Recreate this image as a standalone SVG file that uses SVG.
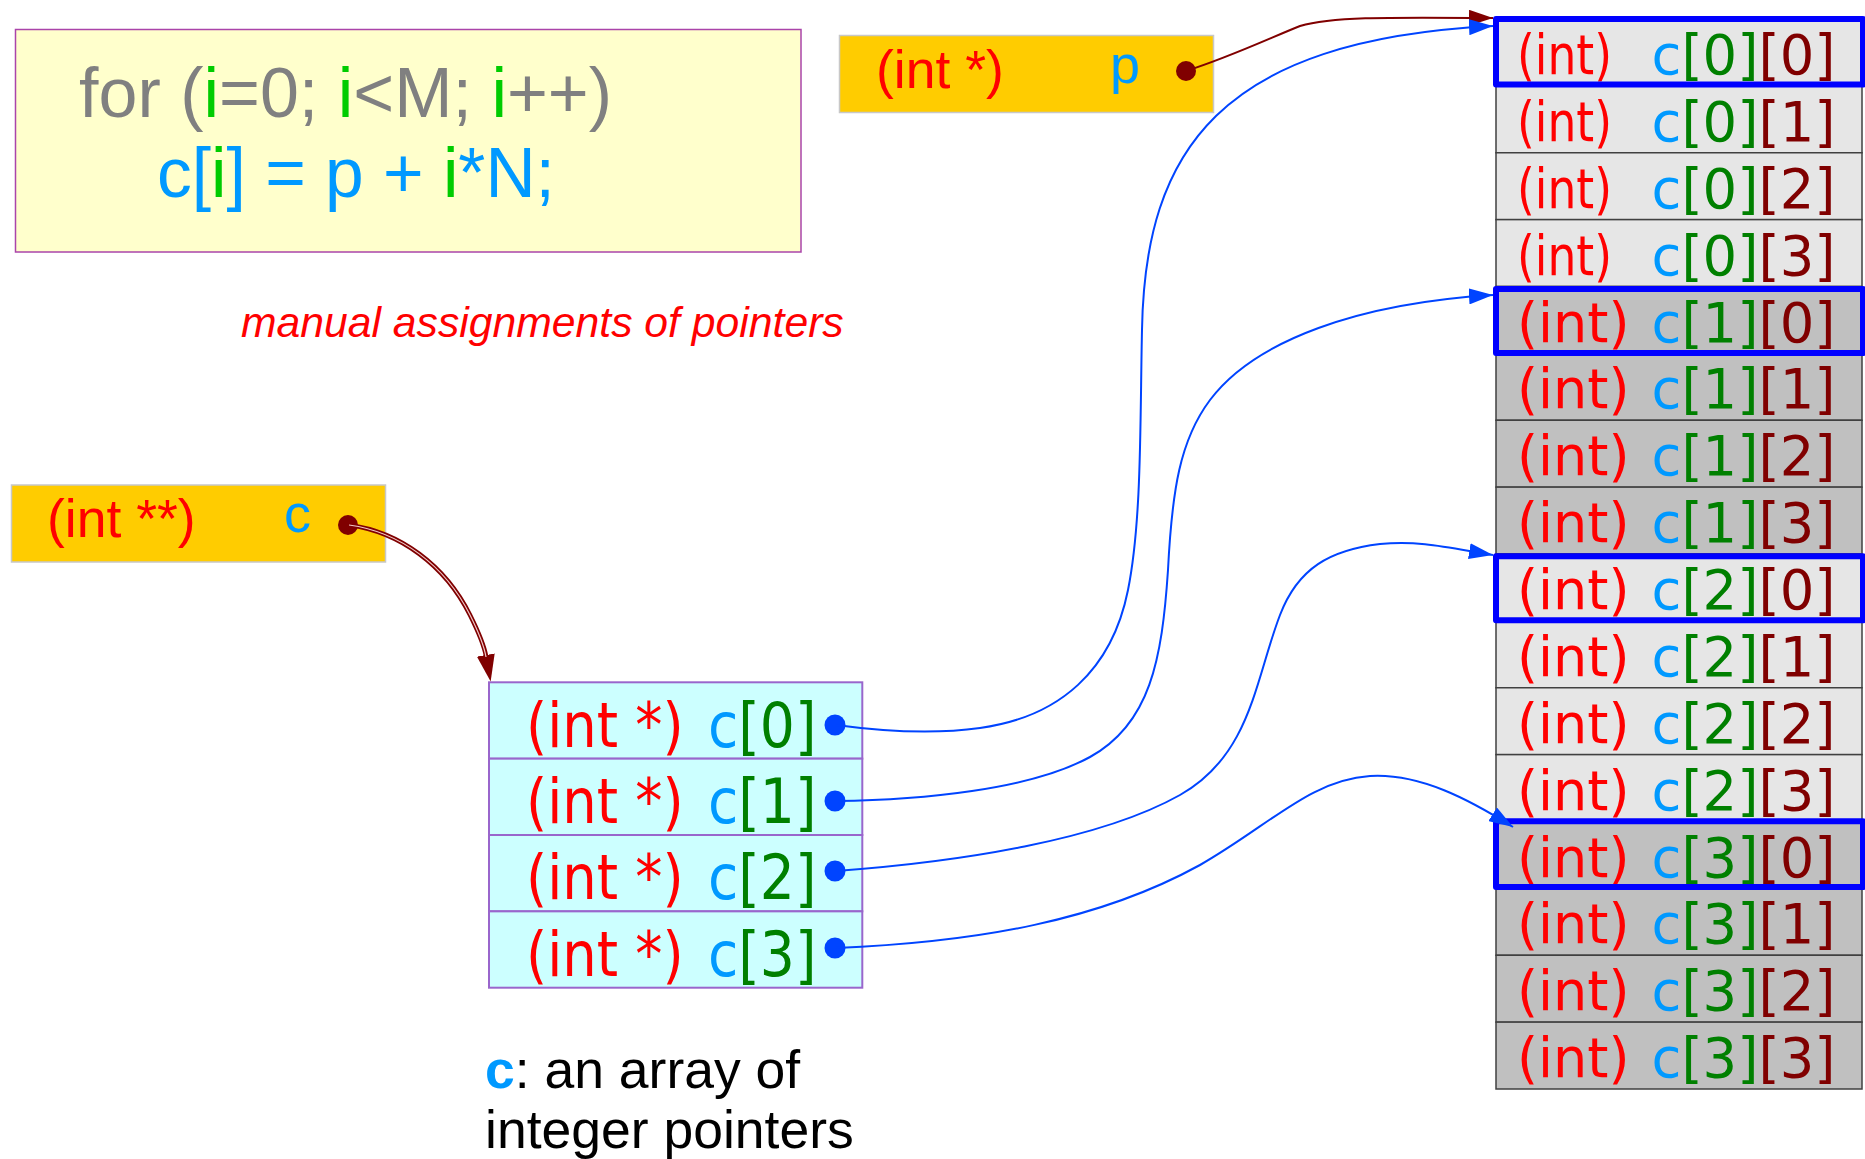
<svg xmlns="http://www.w3.org/2000/svg" width="1865" height="1159" viewBox="0 0 1865 1159">
<style>
.sans{font-family:"Liberation Sans",Arial,sans-serif}
.dv{font-family:"DejaVu Sans Condensed","DejaVu Sans",sans-serif}
.red{fill:#ff0000}
.cb{fill:#0099ff}
.g{fill:#008000}
.dr{fill:#800000}
.gold{fill:#ffcc00;stroke:#c8c8c8;stroke-width:1.5}
.cellA{fill:#e6e6e6;stroke:#404040;stroke-width:1.5}
.cellB{fill:#c0c0c0;stroke:#404040;stroke-width:1.5}
.hl{fill:none;stroke:#0000ff;stroke-width:6;stroke-linejoin:round}
.arr{fill:#ccffff;stroke:#9966cc;stroke-width:2}
.gt{font-size:56px}
.at{font-size:62px}
.blink{fill:none;stroke:#0044ff;stroke-width:2}
</style>
<defs>
<marker id="ab" markerUnits="userSpaceOnUse" markerWidth="24" markerHeight="16" refX="24" refY="8" orient="auto"><path d="M0,0 L24,8 L0,16 z" fill="#0044ff"/></marker>
<marker id="ar" markerUnits="userSpaceOnUse" markerWidth="24" markerHeight="16" refX="24" refY="8" orient="auto"><path d="M0,0 L24,8 L0,16 z" fill="#800000"/></marker>
<marker id="ar2" markerUnits="userSpaceOnUse" markerWidth="27" markerHeight="18" refX="1" refY="9" orient="auto"><path d="M0,0 L27,9 L0,18 z" fill="#800000"/></marker>
</defs>
<rect width="1865" height="1159" fill="#ffffff"/>

<g id="code">
<rect x="15.5" y="29.5" width="785.5" height="222.5" fill="#ffffcc" stroke="#aa44aa" stroke-width="1.5"/>
<text class="sans" x="79" y="117" font-size="70" fill="#808080">for (<tspan fill="#00cc00">i</tspan>=0; <tspan fill="#00cc00">i</tspan>&lt;M; <tspan fill="#00cc00">i</tspan>++)</text>
<text class="sans" x="157" y="197" font-size="69.5" fill="#0099ff">c[<tspan fill="#00cc00">i</tspan>] = p + <tspan fill="#00cc00">i</tspan>*N;</text>
</g>

<g id="caption-manual">
<text class="sans" x="241" y="337" font-size="42.7" font-style="italic" fill="#ff0000">manual assignments of pointers</text>
</g>

<g id="node-p">
<rect class="gold" x="839.5" y="35.5" width="374" height="77"/>
<text class="sans red" x="876" y="88" font-size="53.5">(int *)</text>
<text class="sans cb" x="1110" y="83" font-size="54">p</text>
<circle cx="1186" cy="71" r="10" fill="#800000"/>
</g>

<g id="node-c">
<rect class="gold" x="11.5" y="485" width="374" height="77"/>
<text class="sans red" x="47" y="537" font-size="53.5">(int **)</text>
<text class="sans cb" x="284" y="532" font-size="54">c</text>
<circle cx="348" cy="525" r="10" fill="#800000"/>
</g>

<g id="node-array">
<rect class="arr" x="489" y="682.3" width="373.3" height="76.35"/>
<rect class="arr" x="489" y="758.65" width="373.3" height="76.35"/>
<rect class="arr" x="489" y="835" width="373.3" height="76.35"/>
<rect class="arr" x="489" y="911.35" width="373.3" height="76.35"/>
<text class="dv at red" x="526" y="746.7" textLength="157.6" lengthAdjust="spacingAndGlyphs">(int *)</text>
<text class="dv at" x="708" y="746.7" textLength="108.5" lengthAdjust="spacingAndGlyphs"><tspan class="cb">c</tspan><tspan class="g">[0]</tspan></text>
<text class="dv at red" x="526" y="823" textLength="157.6" lengthAdjust="spacingAndGlyphs">(int *)</text>
<text class="dv at" x="708" y="823" textLength="108.5" lengthAdjust="spacingAndGlyphs"><tspan class="cb">c</tspan><tspan class="g">[1]</tspan></text>
<text class="dv at red" x="526" y="899.4" textLength="157.6" lengthAdjust="spacingAndGlyphs">(int *)</text>
<text class="dv at" x="708" y="899.4" textLength="108.5" lengthAdjust="spacingAndGlyphs"><tspan class="cb">c</tspan><tspan class="g">[2]</tspan></text>
<text class="dv at red" x="526" y="975.7" textLength="157.6" lengthAdjust="spacingAndGlyphs">(int *)</text>
<text class="dv at" x="708" y="975.7" textLength="108.5" lengthAdjust="spacingAndGlyphs"><tspan class="cb">c</tspan><tspan class="g">[3]</tspan></text>
<circle cx="835" cy="725" r="10.5" fill="#0044ff"/>
<circle cx="835" cy="801" r="10.5" fill="#0044ff"/>
<circle cx="835" cy="871" r="10.5" fill="#0044ff"/>
<circle cx="835" cy="948" r="10.5" fill="#0044ff"/>
</g>

<g id="caption-array">
<text class="sans" x="485" y="1088" font-size="53.5" fill="#000000"><tspan font-weight="bold" fill="#0099ff">c</tspan>: an array of</text>
<text class="sans" x="485" y="1148" font-size="53.5" fill="#000000">integer pointers</text>
</g>

<g id="node-grid">
<rect class="cellA" x="1496" y="19" width="366" height="66.875"/>
<rect class="cellA" x="1496" y="85.875" width="366" height="66.875"/>
<rect class="cellA" x="1496" y="152.75" width="366" height="66.875"/>
<rect class="cellA" x="1496" y="219.625" width="366" height="66.875"/>
<rect class="cellB" x="1496" y="286.5" width="366" height="66.875"/>
<rect class="cellB" x="1496" y="353.375" width="366" height="66.875"/>
<rect class="cellB" x="1496" y="420.25" width="366" height="66.875"/>
<rect class="cellB" x="1496" y="487.125" width="366" height="66.875"/>
<rect class="cellA" x="1496" y="554" width="366" height="66.875"/>
<rect class="cellA" x="1496" y="620.875" width="366" height="66.875"/>
<rect class="cellA" x="1496" y="687.75" width="366" height="66.875"/>
<rect class="cellA" x="1496" y="754.625" width="366" height="66.875"/>
<rect class="cellB" x="1496" y="821.5" width="366" height="66.875"/>
<rect class="cellB" x="1496" y="888.375" width="366" height="66.875"/>
<rect class="cellB" x="1496" y="955.25" width="366" height="66.875"/>
<rect class="cellB" x="1496" y="1022.125" width="366" height="66.875"/>

<text class="dv gt red" x="1517" y="74" textLength="95" lengthAdjust="spacingAndGlyphs">(int)</text>
<text class="dv gt" x="1651.5" y="74" textLength="184" lengthAdjust="spacingAndGlyphs"><tspan class="cb">c</tspan><tspan class="g">[0]</tspan><tspan class="dr">[0]</tspan></text>
<text class="dv gt red" x="1517" y="140.9" textLength="95" lengthAdjust="spacingAndGlyphs">(int)</text>
<text class="dv gt" x="1651.5" y="140.9" textLength="184" lengthAdjust="spacingAndGlyphs"><tspan class="cb">c</tspan><tspan class="g">[0]</tspan><tspan class="dr">[1]</tspan></text>
<text class="dv gt red" x="1517" y="207.75" textLength="95" lengthAdjust="spacingAndGlyphs">(int)</text>
<text class="dv gt" x="1651.5" y="207.75" textLength="184" lengthAdjust="spacingAndGlyphs"><tspan class="cb">c</tspan><tspan class="g">[0]</tspan><tspan class="dr">[2]</tspan></text>
<text class="dv gt red" x="1517" y="274.6" textLength="95" lengthAdjust="spacingAndGlyphs">(int)</text>
<text class="dv gt" x="1651.5" y="274.6" textLength="184" lengthAdjust="spacingAndGlyphs"><tspan class="cb">c</tspan><tspan class="g">[0]</tspan><tspan class="dr">[3]</tspan></text>

<text class="dv gt red" x="1517" y="341.5" textLength="112.5" lengthAdjust="spacingAndGlyphs">(int)</text>
<text class="dv gt" x="1651.5" y="341.5" textLength="184" lengthAdjust="spacingAndGlyphs"><tspan class="cb">c</tspan><tspan class="g">[1]</tspan><tspan class="dr">[0]</tspan></text>
<text class="dv gt red" x="1517" y="408.4" textLength="112.5" lengthAdjust="spacingAndGlyphs">(int)</text>
<text class="dv gt" x="1651.5" y="408.4" textLength="184" lengthAdjust="spacingAndGlyphs"><tspan class="cb">c</tspan><tspan class="g">[1]</tspan><tspan class="dr">[1]</tspan></text>
<text class="dv gt red" x="1517" y="475.25" textLength="112.5" lengthAdjust="spacingAndGlyphs">(int)</text>
<text class="dv gt" x="1651.5" y="475.25" textLength="184" lengthAdjust="spacingAndGlyphs"><tspan class="cb">c</tspan><tspan class="g">[1]</tspan><tspan class="dr">[2]</tspan></text>
<text class="dv gt red" x="1517" y="542.1" textLength="112.5" lengthAdjust="spacingAndGlyphs">(int)</text>
<text class="dv gt" x="1651.5" y="542.1" textLength="184" lengthAdjust="spacingAndGlyphs"><tspan class="cb">c</tspan><tspan class="g">[1]</tspan><tspan class="dr">[3]</tspan></text>

<text class="dv gt red" x="1517" y="609" textLength="112.5" lengthAdjust="spacingAndGlyphs">(int)</text>
<text class="dv gt" x="1651.5" y="609" textLength="184" lengthAdjust="spacingAndGlyphs"><tspan class="cb">c</tspan><tspan class="g">[2]</tspan><tspan class="dr">[0]</tspan></text>
<text class="dv gt red" x="1517" y="675.9" textLength="112.5" lengthAdjust="spacingAndGlyphs">(int)</text>
<text class="dv gt" x="1651.5" y="675.9" textLength="184" lengthAdjust="spacingAndGlyphs"><tspan class="cb">c</tspan><tspan class="g">[2]</tspan><tspan class="dr">[1]</tspan></text>
<text class="dv gt red" x="1517" y="742.75" textLength="112.5" lengthAdjust="spacingAndGlyphs">(int)</text>
<text class="dv gt" x="1651.5" y="742.75" textLength="184" lengthAdjust="spacingAndGlyphs"><tspan class="cb">c</tspan><tspan class="g">[2]</tspan><tspan class="dr">[2]</tspan></text>
<text class="dv gt red" x="1517" y="809.6" textLength="112.5" lengthAdjust="spacingAndGlyphs">(int)</text>
<text class="dv gt" x="1651.5" y="809.6" textLength="184" lengthAdjust="spacingAndGlyphs"><tspan class="cb">c</tspan><tspan class="g">[2]</tspan><tspan class="dr">[3]</tspan></text>

<text class="dv gt red" x="1517" y="876.5" textLength="112.5" lengthAdjust="spacingAndGlyphs">(int)</text>
<text class="dv gt" x="1651.5" y="876.5" textLength="184" lengthAdjust="spacingAndGlyphs"><tspan class="cb">c</tspan><tspan class="g">[3]</tspan><tspan class="dr">[0]</tspan></text>
<text class="dv gt red" x="1517" y="943.4" textLength="112.5" lengthAdjust="spacingAndGlyphs">(int)</text>
<text class="dv gt" x="1651.5" y="943.4" textLength="184" lengthAdjust="spacingAndGlyphs"><tspan class="cb">c</tspan><tspan class="g">[3]</tspan><tspan class="dr">[1]</tspan></text>
<text class="dv gt red" x="1517" y="1010.25" textLength="112.5" lengthAdjust="spacingAndGlyphs">(int)</text>
<text class="dv gt" x="1651.5" y="1010.25" textLength="184" lengthAdjust="spacingAndGlyphs"><tspan class="cb">c</tspan><tspan class="g">[3]</tspan><tspan class="dr">[2]</tspan></text>
<text class="dv gt red" x="1517" y="1077.1" textLength="112.5" lengthAdjust="spacingAndGlyphs">(int)</text>
<text class="dv gt" x="1651.5" y="1077.1" textLength="184" lengthAdjust="spacingAndGlyphs"><tspan class="cb">c</tspan><tspan class="g">[3]</tspan><tspan class="dr">[3]</tspan></text>

<rect class="hl" x="1496" y="19" width="367" height="65.5"/>
<rect class="hl" x="1496" y="289" width="367" height="64"/>
<rect class="hl" x="1496" y="556.3" width="367" height="64"/>
<rect class="hl" x="1496" y="821.3" width="367" height="65.7"/>
</g>

<g id="connectors">
<path d="M1186,71 C1230,57 1270,38 1300,26 C1330,17 1380,17 1493,18" fill="none" stroke="#800000" stroke-width="2" marker-end="url(#ar)"/>
<path d="M349,525 C400,532 445,565 470,615 C479,633 484,645 486,656" fill="none" stroke="#800000" stroke-width="4.5" marker-end="url(#ar2)"/>
<path d="M349,525 C400,532 445,565 470,615 C479,633 484,645 486,657" fill="none" stroke="#f0c8c8" stroke-width="1.2"/>
<path class="blink" d="M836,725 C880,731 930,735 980,728 C1060,717 1112,670 1128,590 C1142,520 1140,420 1142,330 C1145,150 1220,40 1493,26" marker-end="url(#ab)"/>
<path class="blink" d="M836,801 C920,800 1030,790 1090,757 C1150,724 1162,660 1168,570 C1172,490 1180,440 1210,400 C1255,340 1360,303 1493,295" marker-end="url(#ab)"/>
<path class="blink" d="M836,871 C960,862 1100,840 1180,795 C1251,755 1255,680 1280,615 C1298,568 1330,550 1380,544 C1420,540 1450,548 1493,555" marker-end="url(#ab)"/>
<path class="blink" d="M836,948 C980,942 1100,920 1200,865 C1270,825 1310,780 1370,776 C1420,773 1470,800 1513,827" marker-end="url(#ab)"/>
</g>
</svg>
